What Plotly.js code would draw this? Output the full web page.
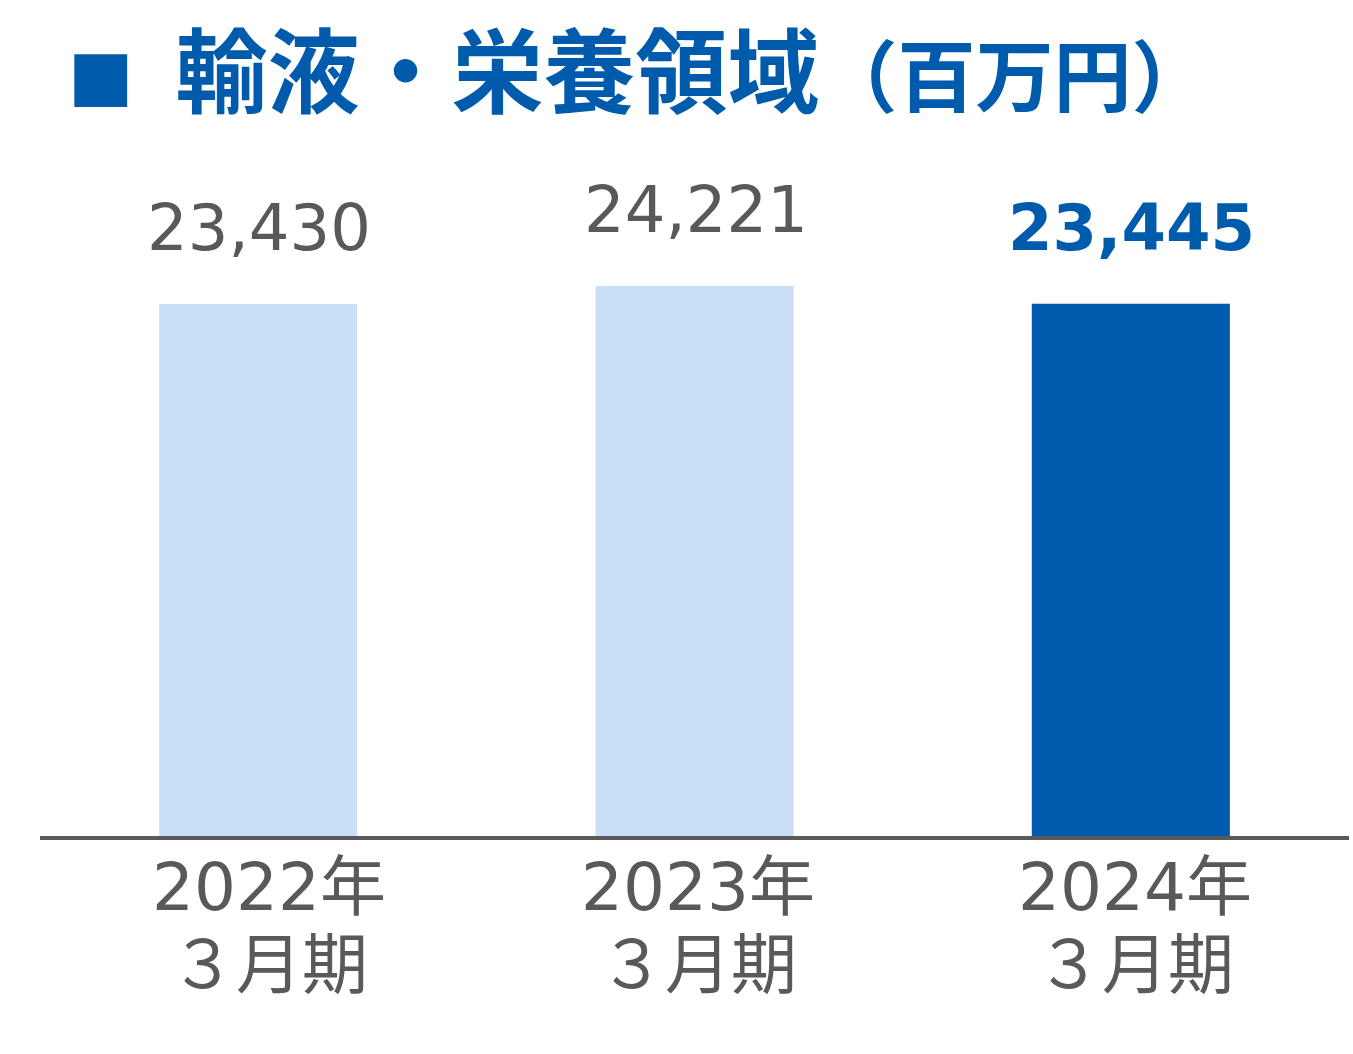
<!DOCTYPE html>
<html>
<head>
<meta charset="utf-8">
<script src="https://cdn.plot.ly/plotly-3.0.1.min.js"></script>
<style>html,body{margin:0;padding:0;background:#fff;}#chart{width:1353px;height:1054px;}</style>
</head>
<body>
<div id="chart"></div>
<script>
const categories = ["2022年3月期", "2023年3月期", "2024年3月期"];
const yearLabels = ["2022年", "2023年", "2024年"];
const periodLabels = ["３月期", "３月期", "３月期"];
const values = [23430, 24221, 23445];
const valueLabels = ["23,430", "24,221", "23,445"];
const barColors = ["#C9DFF5", "#C9DFF5", "#005BAC"];
const labelColors = ["#595959", "#595959", "#005BAC"];
const labelWeights = ["normal", "normal", "bold"];
const titleMain = "輸液・栄養領域";
const titleUnit = "（百万円）";

// style: small horizontal nudges of the category labels (pixels)
const labelShift = [11, 3, 4];

const numFont = "DejaVu Sans, Verdana, Noto Sans CJK JP, sans-serif";
const gray = "#595959";

const trace = {
  type: "bar",
  x: categories,
  y: values,
  marker: {color: barColors},
  hoverinfo: "none"
};

const annotations = [];
values.forEach((v, i) => {
  annotations.push({
    x: categories[i], y: v, xref: "x", yref: "y",
    text: valueLabels[i], showarrow: false,
    yanchor: "middle", xanchor: "center", yshift: 76, xshift: 1,
    font: {family: numFont, size: 64, color: labelColors[i], weight: labelWeights[i]}
  });
  annotations.push({
    x: categories[i], y: 0, xref: "x", yref: "y",
    text: yearLabels[i], showarrow: false,
    yanchor: "middle", xanchor: "center", yshift: -51, xshift: labelShift[i],
    font: {family: numFont, size: 66, color: gray}
  });
  annotations.push({
    x: categories[i], y: 0, xref: "x", yref: "y",
    text: periodLabels[i], showarrow: false,
    yanchor: "middle", xanchor: "center", yshift: -129, xshift: labelShift[i],
    font: {family: numFont, size: 66, color: gray}
  });
});

const layout = {
  width: 1353,
  height: 1054,
  paper_bgcolor: "#ffffff",
  plot_bgcolor: "#ffffff",
  margin: {l: 40, r: 4, t: 150, b: 218},
  showlegend: false,
  bargap: 0.546,
  title: {
    text: "<span style='font-size:66px'>■</span>  " + titleMain + "<span style='font-size:78px'>" + titleUnit + "</span>",
    xref: "container",
    yref: "container",
    x: 0.05,
    xanchor: "left",
    y: 0.93,
    yanchor: "middle",
    font: {family: "Noto Sans CJK JP, sans-serif", size: 92, color: "#005BAC", weight: "bold"}
  },
  xaxis: {
    type: "category",
    range: [-0.5, 2.5],
    showline: true,
    linecolor: gray,
    linewidth: 4,
    ticks: "",
    showticklabels: false,
    showgrid: false,
    zeroline: false,
    fixedrange: true
  },
  yaxis: {
    range: [0, 30213],
    visible: false,
    showgrid: false,
    zeroline: false,
    fixedrange: true
  },
  annotations: annotations
};

Plotly.newPlot("chart", [trace], layout, {displayModeBar: false, staticPlot: true});
</script>
</body>
</html>
